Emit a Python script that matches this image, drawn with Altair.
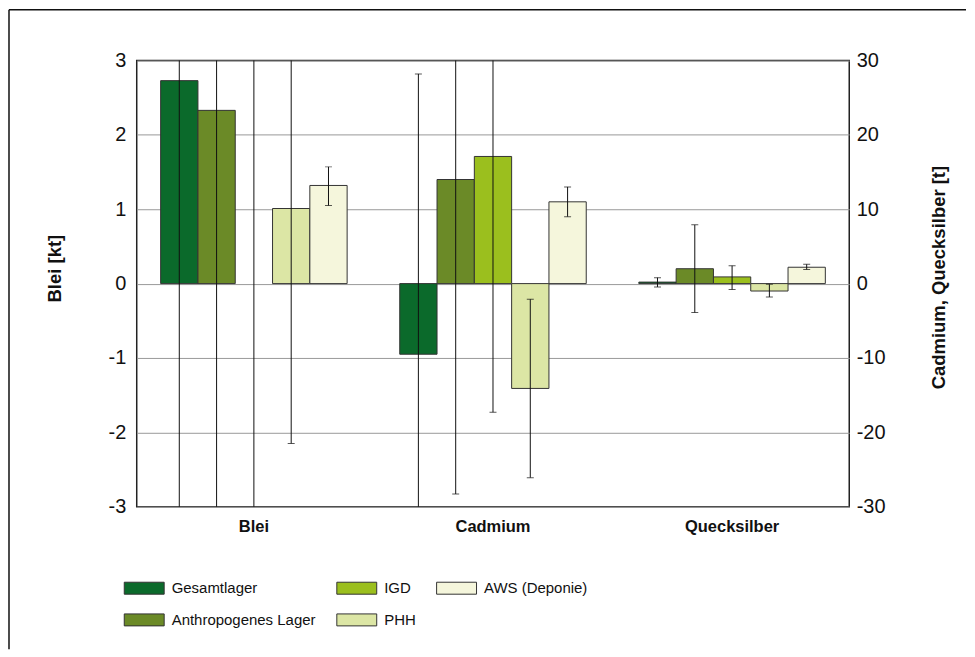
import altair as alt
import pandas as pd

metals = ["Blei", "Cadmium", "Quecksilber"]
series = ["Gesamtlager", "Anthropogenes Lager", "IGD", "PHH", "AWS (Deponie)"]
colors = ["#0b6a2b", "#6b8a27", "#9bbf1e", "#dce6a5", "#f5f6dc"]

# Blei in kt
blei_vals = [2.73, 2.33, None, 1.01, 1.32]
blei_low = [-3.6, -3.6, -3.6, -2.15, 1.05]
blei_high = [3.6, 3.6, 3.6, 3.6, 1.57]
# Cadmium in t
cd_vals = [-9.5, 14.0, 17.1, -14.1, 11.0]
cd_low = [-36.0, -28.3, -17.3, -26.1, 9.0]
cd_high = [28.2, 36.0, 36.0, -2.1, 13.0]
# Quecksilber in t
hg_vals = [0.2, 2.0, 0.9, -1.0, 2.2]
hg_low = [-0.45, -3.9, -0.8, -1.8, 1.9]
hg_high = [0.8, 7.9, 2.4, -0.1, 2.6]

left_ticks = [-3, -2, -1, 0, 1, 2, 3]
right_ticks = [-30, -20, -10, 0, 10, 20, 30]

rows = []
for metal, vals, lo, hi, f in [
    ("Blei", blei_vals, blei_low, blei_high, 1.0),
    ("Cadmium", cd_vals, cd_low, cd_high, 0.1),
    ("Quecksilber", hg_vals, hg_low, hg_high, 0.1),
]:
    for s, v, l, h in zip(series, vals, lo, hi):
        rows.append(dict(metal=metal, series=s,
                         v=(None if v is None else v * f),
                         lo=l * f, hi=h * f, t=l * f * 10))
df = pd.DataFrame(rows)

REG = "Liberation Sans, Arial"

x_enc = alt.X("metal:N", sort=metals,
              scale=alt.Scale(paddingInner=0.22, paddingOuter=0.1),
              axis=alt.Axis(title=None, labelAngle=0, ticks=False, domain=False,
                            labelFont=REG, labelFontSize=16.5, labelFontWeight="bold",
                            labelColor="#111", labelPadding=12))
xo_enc = alt.XOffset("series:N", sort=series,
                     scale=alt.Scale(paddingInner=0, paddingOuter=0))
y_scale = alt.Scale(domain=[-3, 3], nice=False, zero=False)
y_axis = alt.Axis(values=left_ticks, labelExpr="toString(datum.value)",
                  grid=True, gridColor="#999", ticks=False, domain=False,
                  labelFont=REG, labelFontSize=20, labelColor="#111", labelPadding=11,
                  title="Blei [kt]", titleFont=REG, titleFontSize=18.5,
                  titleFontWeight="bold", titleColor="#111", titleAngle=270,
                  titlePadding=44, titleY=208)

base = alt.Chart(df)

bars = base.mark_bar(stroke="#333", strokeWidth=1).encode(
    x=x_enc, xOffset=xo_enc,
    y=alt.Y("v:Q", scale=y_scale, axis=y_axis),
    color=alt.Color("series:N",
                    scale=alt.Scale(domain=series, range=colors),
                    legend=alt.Legend(title=None, orient="none", legendX=-13, legendY=508,
                                      columns=3, columnPadding=18, rowPadding=3,
                                      symbolType="M-1,-0.3L1,-0.3L1,0.3L-1,0.3Z",
                                      symbolSize=1600, symbolStrokeColor="#333",
                                      symbolStrokeWidth=1, symbolOpacity=1,
                                      labelFont=REG, labelFontSize=15,
                                      labelLimit=300,
                                      labelColor="#111", labelOffset=7)),
)

rules = base.mark_rule(color="#111", strokeWidth=1, clip=True).encode(
    x=x_enc, xOffset=xo_enc,
    y=alt.Y("lo:Q", scale=y_scale),
    y2="hi:Q",
)
caps_lo = base.mark_tick(color="#111", orient="horizontal", size=7, thickness=1, clip=True).encode(
    x=x_enc, xOffset=xo_enc, y=alt.Y("lo:Q", scale=y_scale))
caps_hi = base.mark_tick(color="#111", orient="horizontal", size=7, thickness=1, clip=True).encode(
    x=x_enc, xOffset=xo_enc, y=alt.Y("hi:Q", scale=y_scale))

one = alt.Chart(pd.DataFrame({"a": [0]}))
frame_top = one.mark_rule(color="#111", strokeWidth=1.5).encode(
    x=alt.value(-128), x2=alt.value(831), y=alt.value(-51))
frame_left = one.mark_rule(color="#111", strokeWidth=1.5).encode(
    x=alt.value(-128), y=alt.value(-51), y2=alt.value(590))

main = alt.layer(bars, rules, caps_lo, caps_hi, frame_top, frame_left)

axis_layer = base.mark_rule(opacity=0, clip=True).encode(
    y=alt.Y("t:Q", scale=alt.Scale(domain=[-30, 30], nice=False, zero=False),
            axis=alt.Axis(orient="right", values=right_ticks,
                          labelExpr="toString(datum.value)", grid=False,
                          ticks=False, domain=False, labelFont=REG, labelFontSize=20,
                          labelColor="#111", labelPadding=7,
                          title="Cadmium, Quecksilber [t]", titleFont=REG,
                          titleFontSize=18.5, titleFontWeight="bold", titleColor="#111",
                          titleAngle=270, titlePadding=64, titleY=217))
)

chart = alt.layer(main, axis_layer).resolve_scale(y="independent").properties(
    width=714, height=447, padding=0
).configure_view(stroke="#222", strokeWidth=1.5)

chart.save("out.html", embed_options={"renderer": "svg", "actions": False})
